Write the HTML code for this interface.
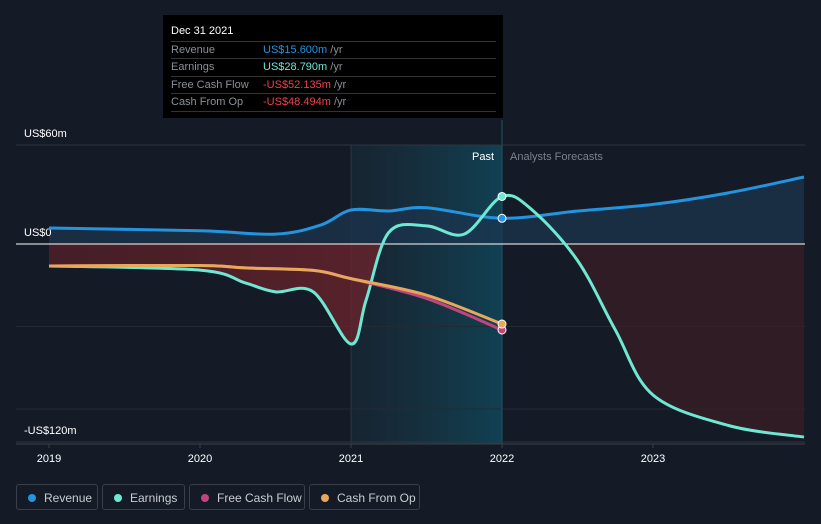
<!DOCTYPE html>
<html><head><meta charset="utf-8"><style>
body{margin:0;background:#151b26;font-family:"Liberation Sans",sans-serif;}
#c{position:absolute;left:0;top:0}
.tt{position:absolute;left:163px;top:15px;width:340px;height:103px;background:#000;color:#fff;font-size:11px}
.tt .h{position:absolute;left:8px;top:10px;font-size:11px}
.row{position:absolute;left:8px;width:325px;height:17px;border-top:1px solid #333;line-height:17px;color:#8a8f98}
.row span{position:absolute;left:92px}
.leg{position:absolute;top:484px;height:26px;border:1px solid #3a404b;border-radius:3px;color:#c9ccd1;font-size:12px;line-height:26px;box-sizing:border-box}
.leg i{position:absolute;left:11px;top:9px;width:8px;height:8px;border-radius:50%}
.leg b{font-weight:normal;position:absolute;left:27px}
</style></head><body>
<svg id="c" width="821" height="524"></svg>
<div class="tt">
<div class="h">Dec 31 2021</div>
<div class="row" style="top:26px">Revenue<span style="color:#2394df">US$15.600m <em style="font-style:normal;color:#8a8f98">/yr</em></span></div>
<div class="row" style="top:43px">Earnings<span style="color:#6ee7d3">US$28.790m <em style="font-style:normal;color:#8a8f98">/yr</em></span></div>
<div class="row" style="top:61px">Free Cash Flow<span style="color:#f0424a">-US$52.135m <em style="font-style:normal;color:#8a8f98">/yr</em></span></div>
<div class="row" style="top:78px;border-bottom:1px solid #333">Cash From Op<span style="color:#f0424a">-US$48.494m <em style="font-style:normal;color:#8a8f98">/yr</em></span></div>
</div>
<div class="leg" style="left:16px;width:82px"><i style="background:#2394df"></i><b>Revenue</b></div>
<div class="leg" style="left:102px;width:83px"><i style="background:#6ee7d3"></i><b>Earnings</b></div>
<div class="leg" style="left:189px;width:116px"><i style="background:#c0457f"></i><b>Free Cash Flow</b></div>
<div class="leg" style="left:309px;width:111px"><i style="background:#e8a85a"></i><b>Cash From Op</b></div>
<script>
const revT=[2019,2020,2020.5,2020.8,2021,2021.25,2021.5,2022,2022.5,2023,2023.5,2024];
const revV=[9.7,8,6,11.5,20.6,20,22,15.6,20,24,31,40.6];
const earnT=[2019,2020,2020.3,2020.5,2020.75,2021,2021.1,2021.25,2021.5,2021.75,2022,2022.2,2022.5,2022.75,2023,2023.5,2024];
const earnV=[-13.3,-15.8,-23.6,-29,-29,-60.6,-34,7,11,6,28.8,20.6,-10,-52,-91.5,-110,-117];
const cfT=[2019,2020,2020.3,2020.75,2021,2021.5,2022];
const fcfV=[-13.3,-13,-14.5,-16,-21,-33,-52.1];
const cfoV=[-13.3,-13,-14.5,-16,-21,-31,-48.5];
const yTicks=[60,0,-120];const yLab=["US$60m","US$0","-US$120m"];
const xTicks=[2019,2020,2021,2022,2023];
const X=t=>49+(t-2019)*151, Y=v=>244-v*99/60;
const s=document.getElementById('c'),NS='http://www.w3.org/2000/svg';
function el(n,a,p){const e=document.createElementNS(NS,n);for(const k in a)e.setAttribute(k,a[k]);(p||s).appendChild(e);return e;}
function path(T,V){const P=T.map((t,i)=>[X(t),Y(V[i])]);let d='M'+P[0];for(let i=0;i<P.length-1;i++){const p0=P[i-1]||P[i],p1=P[i],p2=P[i+1],p3=P[i+2]||p2;const c1=[p1[0]+(p2[0]-p0[0])/6,p1[1]+(p2[1]-p0[1])/6],c2=[p2[0]-(p3[0]-p1[0])/6,p2[1]-(p3[1]-p1[1])/6];d+='C'+c1+' '+c2+' '+p2;}return d;}
const defs=el('defs',{});
defs.innerHTML='<linearGradient id="pg" x1="0" x2="1"><stop offset="0" stop-color="#1a3a4a" stop-opacity="0.3"/><stop offset="1" stop-color="#0f4a5e" stop-opacity="0.8"/></linearGradient><linearGradient id="rg" x1="0" x2="1"><stop offset="0" stop-color="#5a1f27" stop-opacity="0.7"/><stop offset="1" stop-color="#8a2a33" stop-opacity="0.8"/></linearGradient><clipPath id="below"><rect x="0" y="244" width="821" height="300"/></clipPath><clipPath id="past"><rect x="0" y="0" width="502" height="524"/></clipPath><clipPath id="fut"><rect x="502" y="0" width="400" height="524"/></clipPath>';
let r=el('rect',{x:351,y:145,width:151,height:299,fill:'url(#pg)'});
el('line',{x1:16,x2:805,y1:Y(-100),y2:Y(-100),stroke:'#242a34'});el('line',{x1:16,x2:805,y1:Y(-50),y2:Y(-50),stroke:'#242a34'});
el('line',{x1:16,x2:805,y1:444,y2:444,stroke:'#3a404b'});
el('line',{x1:351,x2:351,y1:145,y2:444,stroke:'#2e3540'});
el('line',{x1:502,x2:502,y1:120,y2:444,stroke:'#1f5566'});
const ed=path(earnT,earnV),rd=path(revT,revV);
const ef=ed+`L${X(2024)},244L${X(2019)},244Z`;
let a=el('path',{d:ef,fill:'url(#rg)','clip-path':'url(#below)'});el('g',{'clip-path':'url(#past)'}).appendChild(a);
let a2=el('path',{d:ef,fill:'#3a1d25',opacity:0.7,'clip-path':'url(#below)'});el('g',{'clip-path':'url(#fut)'}).appendChild(a2);
let rf=el('path',{d:rd+`L${X(2024)},244L${X(2019)},244Z`,fill:'#1b3550',opacity:0.7});
yTicks.forEach((v,i)=>{let l=el('line',{x1:16,x2:805,y1:Y(v),y2:Y(v),stroke:v==0?'#fff':'#2e3540'});
let t=el('text',{x:24,y:Y(v)-8,fill:'#fff',"font-size":11});t.textContent=yLab[i];});
xTicks.forEach(t=>{let l=el('line',{x1:X(t),x2:X(t),y1:444,y2:448,stroke:'#3a404b'});let tx=el('text',{x:X(t),y:462,fill:'#fff',"font-size":11,"text-anchor":"middle"});tx.textContent=t;});
let pt=el('text',{x:494,y:160,fill:'#fff',"font-size":11,"text-anchor":"end"});pt.textContent='Past';
let ft=el('text',{x:510,y:160,fill:'#7c828c',"font-size":11});ft.textContent='Analysts Forecasts';
const lines=[[revT,revV,'#2394df','revenue-line'],[earnT,earnV,'#6ee7d3','earnings-line'],[cfT,fcfV,'#c0457f','fcf-line'],[cfT,cfoV,'#e8a85a','cfo-line']];
lines.forEach(([T,V,c,n])=>{let p=el('path',{d:path(T,V),fill:'none',stroke:c,'stroke-width':3});});
[[revV[revT.indexOf(2022)],'#2394df'],[earnV[earnT.indexOf(2022)],'#6ee7d3'],[fcfV[6],'#c0457f'],[cfoV[6],'#e8a85a']].forEach(([v,c])=>{let d=el('circle',{cx:X(2022),cy:Y(v),r:4,fill:c,stroke:'#fff','stroke-width':1});});
</script>
</body></html>
